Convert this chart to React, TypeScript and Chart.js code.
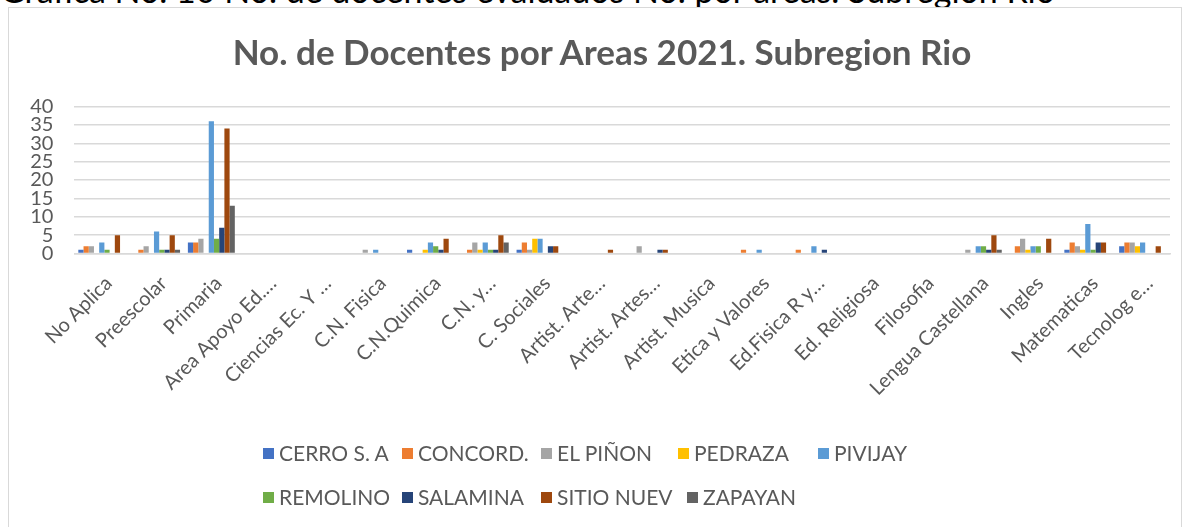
import React, { useEffect, useRef } from "react";
import { Chart, registerables } from "chart.js";

Chart.register(...registerables);

const categories = [
  "No Aplica",
  "Preescolar",
  "Primaria",
  "Area Apoyo Ed.…",
  "Ciencias Ec. Y …",
  "C.N. Fisica",
  "C.N.Quimica",
  "C.N. y…",
  "C. Sociales",
  "Artist. Arte…",
  "Artist. Artes…",
  "Artist. Musica",
  "Etica y Valores",
  "Ed.Fisica R y…",
  "Ed. Religiosa",
  "Filosofia",
  "Lengua Castellana",
  "Ingles",
  "Matematicas",
  "Tecnolog e…",
];

const seriesNames = [
  "CERRO S. A",
  "CONCORD.",
  "EL PIÑON",
  "PEDRAZA",
  "PIVIJAY",
  "REMOLINO",
  "SALAMINA",
  "SITIO NUEV",
  "ZAPAYAN",
];

const cerro = [1, 0, 3, 0, 0, 0, 1, 0, 1, 0, 0, 0, 0, 0, 0, 0, 0, 0, 1, 2];
const concord = [2, 1, 3, 0, 0, 0, 0, 1, 3, 0, 0, 0, 1, 1, 0, 0, 0, 2, 3, 3];
const elPinon = [2, 2, 4, 0, 0, 1, 0, 3, 1, 0, 2, 0, 0, 0, 0, 0, 1, 4, 2, 3];
const pedraza = [0, 0, 0, 0, 0, 0, 1, 1, 4, 0, 0, 0, 0, 0, 0, 0, 0, 1, 1, 2];
const pivijay = [3, 6, 36, 0, 0, 1, 3, 3, 4, 0, 0, 0, 1, 2, 0, 0, 2, 2, 8, 3];
const remolino = [1, 1, 4, 0, 0, 0, 2, 1, 0, 0, 0, 0, 0, 0, 0, 0, 2, 2, 1, 0];
const salamina = [0, 1, 7, 0, 0, 0, 1, 1, 2, 0, 1, 0, 0, 1, 0, 0, 1, 0, 3, 0];
const sitioNuev = [5, 5, 34, 0, 0, 0, 4, 5, 2, 1, 1, 0, 0, 0, 0, 0, 5, 4, 3, 2];
const zapayan = [0, 1, 13, 0, 0, 0, 0, 3, 0, 0, 0, 0, 0, 0, 0, 0, 1, 0, 0, 0];

const seriesValues = [cerro, concord, elPinon, pedraza, pivijay, remolino, salamina, sitioNuev, zapayan];

const colors = [
  "#4472C4",
  "#ED7D31",
  "#A5A5A5",
  "#FFC000",
  "#5B9BD5",
  "#70AD47",
  "#264478",
  "#9E480E",
  "#636363",
];

const yTickStep = 5;
const yMax = 40;

const titleText = "No. de Docentes por Areas 2021. Subregion Rio";
const captionText = "Gráfica No. 10 No. de docentes evaluados No. por areas. Subregion Rio";

// legend layout (positions only)
const legendRows = [
  { top: 453, items: [0, 1, 2, 3, 4], lefts: [263, 402, 541, 678, 818] },
  { top: 497, items: [5, 6, 7, 8], lefts: [263, 402, 541, 687] },
];

export default function App() {
  const ref = useRef<HTMLCanvasElement>(null);

  useEffect(() => {
    const canvas = ref.current!;
    const chart = new Chart(canvas, {
      type: "bar",
      data: {
        labels: categories,
        datasets: seriesNames.map((name, i) => ({
          label: name,
          data: seriesValues[i],
          backgroundColor: colors[i],
          borderWidth: 0,
          barPercentage: 1,
          categoryPercentage: 0.857,
        })),
      },
      options: {
        responsive: false,
        animation: false,
        devicePixelRatio: 1,
        layout: { padding: { top: 106.5, left: 0, right: 14, bottom: 103.5 } },
        plugins: {
          legend: { display: false },
          title: { display: false },
          tooltip: { enabled: false },
        },
        scales: {
          x: {
            grid: { display: false, drawTicks: false },
            border: { display: true, color: "#d9d9d9", width: 1.5 },
            ticks: {
              color: "#595959",
              font: { family: "Lato", size: 20 },
              minRotation: 45,
              maxRotation: 45,
              autoSkip: false,
              padding: 18,
              labelOffset: 7,
            },
            afterFit: (s: any) => {
              s.height = 170;
            },
          },
          y: {
            min: 0,
            max: yMax,
            ticks: {
              stepSize: yTickStep,
              autoSkip: false,
              color: "#595959",
              font: { family: "Lato", size: 20 },
              padding: 21,
            },
            grid: { color: "#d9d9d9", lineWidth: 1.5, drawTicks: false },
            border: { display: false },
            afterFit: (s: any) => {
              s.width = 74.4;
            },
          },
        },
      },
    });
    return () => chart.destroy();
  }, []);

  return (
    <div
      style={{
        position: "fixed",
        left: 0,
        top: 0,
        width: 1184,
        height: 527,
        overflow: "hidden",
        background: "#fff",
        fontFamily: "Lato, sans-serif",
      }}
    >
      <div
        style={{
          position: "absolute",
          left: 0,
          top: -27,
          fontSize: 34,
          lineHeight: "34px",
          color: "#000",
          whiteSpace: "nowrap",
        }}
      >
        {captionText}
      </div>
      <div
        style={{
          position: "absolute",
          left: 8,
          top: 7,
          width: 1174,
          height: 600,
          border: "1px solid #d9d9d9",
          boxSizing: "border-box",
          background: "#fff",
        }}
      />
      <canvas
        ref={ref}
        width={1184}
        height={527}
        style={{ position: "absolute", left: 0, top: 0, width: 1184, height: 527 }}
      />
      <div
        style={{
          position: "absolute",
          left: 0,
          width: 1204,
          top: 32,
          textAlign: "center",
          fontSize: 35,
          lineHeight: "38px",
          fontWeight: 700,
          color: "#595959",
          whiteSpace: "nowrap",
        }}
      >
        {titleText}
      </div>
      {legendRows.map((row, r) =>
        row.items.map((si, k) => (
          <div
            key={`${r}-${k}`}
            style={{
              position: "absolute",
              left: row.lefts[k],
              top: row.top - 12,
              height: 24,
              display: "flex",
              alignItems: "center",
              whiteSpace: "nowrap",
            }}
          >
            <span
              style={{
                display: "inline-block",
                width: 11,
                height: 11,
                background: colors[si],
                marginRight: 5,
              }}
            />
            <span style={{ fontSize: 21, color: "#595959", lineHeight: "24px" }}>{seriesNames[si]}</span>
          </div>
        ))
      )}
    </div>
  );
}
